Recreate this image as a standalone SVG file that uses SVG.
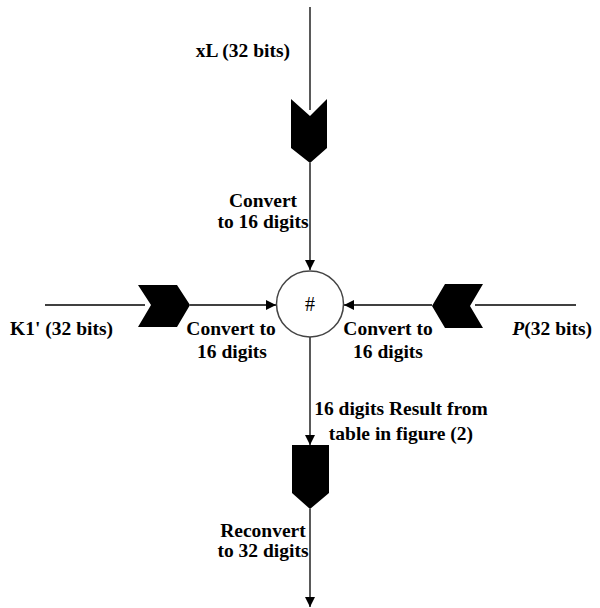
<svg xmlns="http://www.w3.org/2000/svg" width="600" height="608" viewBox="0 0 600 608">
<style>
text{font-family:"Liberation Serif","Times New Roman",serif;font-weight:bold;font-size:19.5px;fill:#000}
.c{text-anchor:middle}
.e{text-anchor:end}
.ln{stroke:#000;stroke-width:1.3;fill:none}
.chev{fill:#000;stroke:none}
</style>
<defs>
<marker id="ah" viewBox="0 0 10 10" refX="10" refY="5" markerWidth="10" markerHeight="10" markerUnits="userSpaceOnUse" orient="auto">
<path d="M0,0 L10,5 L0,10 Z" fill="#000"/>
</marker>
</defs>
<g id="connectors">
<line class="ln" x1="310" y1="7" x2="310" y2="110"/>
<line class="ln" x1="310" y1="163" x2="310" y2="270" marker-end="url(#ah)"/>
<line class="ln" x1="45" y1="305" x2="145" y2="305"/>
<line class="ln" x1="190" y1="305" x2="276" y2="305" marker-end="url(#ah)"/>
<line class="ln" x1="576" y1="305" x2="475" y2="305"/>
<line class="ln" x1="432" y1="305" x2="344" y2="305" marker-end="url(#ah)"/>
<line class="ln" x1="310" y1="337" x2="310" y2="445" marker-end="url(#ah)"/>
<line class="ln" x1="310" y1="509" x2="310" y2="607" marker-end="url(#ah)"/>
</g>
<g id="chevron-top"><polygon class="chev" points="291,99 310,116 327,99 327,148 310,163 291,148"/></g>
<g id="chevron-left"><polygon class="chev" points="138,285 177,285 190,305 177,327 138,327 151,305"/></g>
<g id="chevron-right"><polygon class="chev" points="432,306 445,284 483,284 470,306 483,328 445,328"/></g>
<g id="chevron-bottom"><polygon class="chev" points="292,445 329,445 329,493 310,509 292,493"/></g>
<g id="op">
<ellipse cx="310" cy="304" rx="33.5" ry="33" fill="#fff" stroke="#444" stroke-width="1.5"/>
<text class="c" x="310" y="311" style="font-weight:normal;font-size:20px">#</text>
</g>
<g id="labels">
<text class="e" x="290" y="57">xL (32 bits)</text>
<text class="c" x="263" y="207">Convert</text>
<text class="c" x="263" y="228">to 16 digits</text>
<text class="e" x="113" y="335">K1' (32 bits)</text>
<text class="c" x="231" y="335">Convert to</text>
<text class="c" x="232" y="358">16 digits</text>
<text class="c" x="388" y="335">Convert to</text>
<text class="c" x="388" y="358">16 digits</text>
<text class="e" x="592" y="335"><tspan font-style="italic">P</tspan>(32 bits)</text>
<text class="c" x="401" y="415">16 digits Result from</text>
<text class="c" x="401" y="440">table in figure (2)</text>
<text class="c" x="263" y="537">Reconvert</text>
<text class="c" x="263" y="557">to 32 digits</text>
</g>
</svg>
